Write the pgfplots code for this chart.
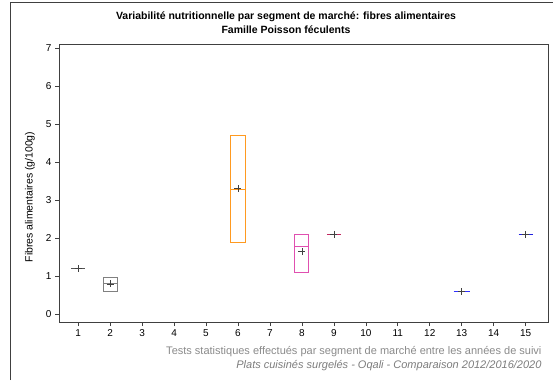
\documentclass[border=0pt]{standalone}
\usepackage{fontspec}
\setmainfont{Liberation Sans}
\usepackage{pgfplots}
\pgfplotsset{compat=1.18}

\definecolor{axisgray}{HTML}{404040}
\definecolor{segA}{HTML}{555555}
\definecolor{segB}{HTML}{808080}
\definecolor{segF}{HTML}{FF9A20}
\definecolor{segH}{HTML}{E050B0}
\definecolor{segI}{HTML}{C02860}
\definecolor{segM}{HTML}{3030FF}
\definecolor{segO}{HTML}{2020E0}
\definecolor{foot}{HTML}{8A8A8A}

\begin{document}
\begin{tikzpicture}
\useasboundingbox (0,0) rectangle (553pt,380pt);
% outer frame
\draw[axisgray, line width=0.8pt] (10pt,0pt) -- (10pt,378pt) -- (553pt,378pt);

\begin{axis}[
    at={(59pt,58pt)}, anchor=south west,
    scale only axis,
    width=489pt, height=278pt,
    xmin=0.4, xmax=15.7,
    ymin=-0.2, ymax=7.1,
    xtick={1,...,15},
    ytick={0,...,7},
    tick align=outside,
    tick pos=left,
    major tick length=4pt,
    axis line style={axisgray, line width=0.8pt},
    tick style={axisgray, line width=0.6pt},
    tick label style={font=\fontsize{10}{12}\selectfont},
    /pgf/number format/assume math mode=true,
    unbounded coords=jump,
]
% segment 1 (single value)
\addplot[draw=segA, line width=1pt] coordinates {(0.78,1.2) (1.22,1.2)};
% segment 2: box Q1-Q3 and median
\addplot[draw=segB, line width=1pt] coordinates {(1.78,0.6) (2.22,0.6) (2.22,0.96) (1.78,0.96) (1.78,0.6) (nan,nan) (1.78,0.8) (2.22,0.8)};
% segment 6
\addplot[draw=segF, line width=1pt] coordinates {(5.78,1.88) (6.22,1.88) (6.22,4.69) (5.78,4.69) (5.78,1.88) (nan,nan) (5.78,3.27) (6.22,3.27)};
% segment 8
\addplot[draw=segH, line width=1pt] coordinates {(7.78,1.09) (8.22,1.09) (8.22,2.09) (7.78,2.09) (7.78,1.09) (nan,nan) (7.78,1.79) (8.22,1.79)};
% segments 9, 13, 15 (single value)
\addplot[draw=segI, line width=1.1pt] coordinates {(8.78,2.1) (9.22,2.1)};
\addplot[draw=segM, line width=1.3pt] coordinates {(12.75,0.6) (13.25,0.6)};
\addplot[draw=segO, line width=1.1pt] coordinates {(14.78,2.1) (15.22,2.1)};
% means
\addplot[only marks, mark=+, mark size=3.5pt, black!75, mark options={line width=0.6pt}] coordinates {
    (1,1.2) (2,0.8) (6,3.3) (8,1.65) (9,2.1) (13,0.6) (15,2.1)
};
\end{axis}

\node[align=center, font=\bfseries\fontsize{10.5}{14}\selectfont] at (286pt,357pt)
    {Variabilité nutritionnelle par segment de marché: fibres alimentaires\\Famille Poisson féculents};
\node[rotate=90, font=\fontsize{10.5}{12}\selectfont] at (30pt,183pt) {Fibres alimentaires (g/100g)};
\node[anchor=east, text=foot, font=\fontsize{11}{13}\selectfont] at (545pt,28pt)
    {Tests statistiques effectués par segment de marché entre les années de suivi};
\node[anchor=east, text=foot!90!black, font=\itshape\fontsize{11}{13}\selectfont] at (545pt,14pt)
    {Plats cuisinés surgelés - Oqali - Comparaison 2012/2016/2020};
\end{tikzpicture}
\end{document}
